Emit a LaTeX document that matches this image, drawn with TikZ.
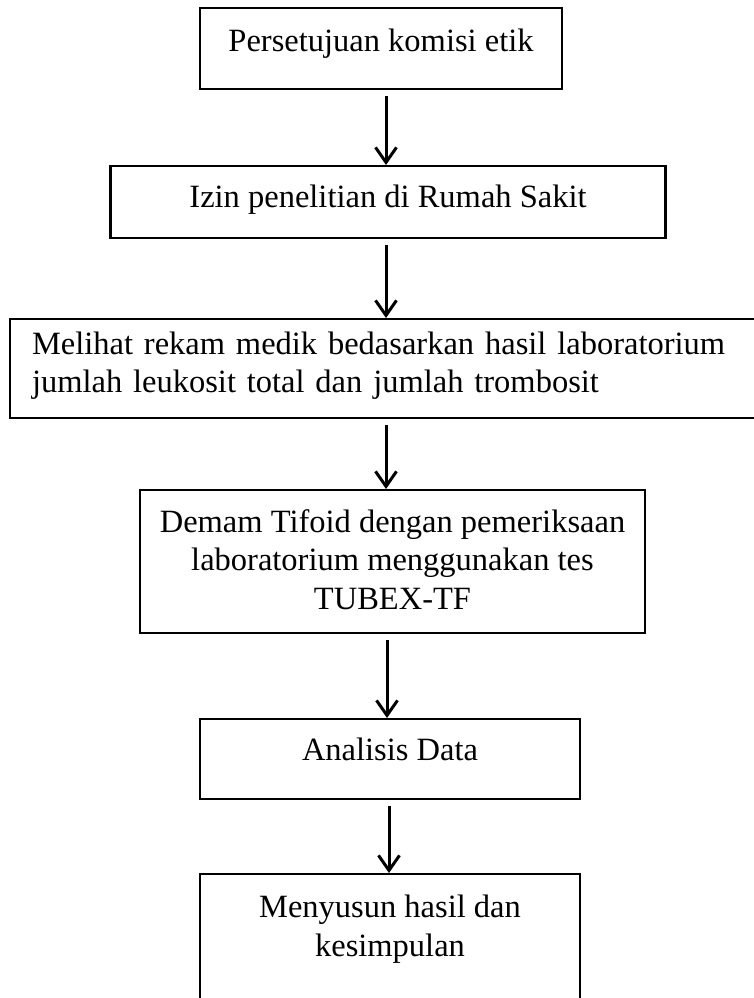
\documentclass[tikz,border=0pt]{standalone}
\usepackage{fontspec}
\setmainfont{Liberation Serif}
\usepackage{tikz}
\usetikzlibrary{arrows.meta}
\tikzset{
	flow node/.style={draw,line width=2.2pt,inner ysep=0pt,anchor=north,align=center,
		font=\fontsize{32.5}{38.5}\selectfont},
	flow line/.style={line width=3pt,shorten <=6pt}
}

\begin{document}
\begin{tikzpicture}[x=1pt,y=-1pt,>={Straight Barb[length=15pt,width=21pt]}]
	\useasboundingbox (0,0) rectangle (753,998);
	% boxes of the procedure
	\node [flow node,minimum width=362pt,text height=43pt,text depth=38pt] (1) at (381,7) {Persetujuan komisi etik};
	\node [flow node,minimum width=555pt,text height=41pt,text depth=31pt] (2) at (388,165) {Izin penelitian di Rumah Sakit};
	\node [flow node,text width=706pt,inner xsep=22pt,align=left,text height=35pt,text depth=64pt] (3) at (385,318)
		{Melihat rekam medik bedasarkan hasil laboratorium\\jumlah leukosit total dan jumlah trombosit};
	\node [flow node,minimum width=505pt,text height=119pt,text depth=24pt] (4) at (392.5,489)
		{Demam Tifoid dengan pemeriksaan\\laboratorium menggunakan tes\\TUBEX-TF};
	\node [flow node,minimum width=380pt,text height=41pt,text depth=39pt] (5) at (390,718) {Analisis Data};
	\node [flow node,minimum width=380pt,text height=82pt,text depth=55pt] (6) at (390,873)
		{Menyusun hasil dan\\kesimpulan};
	% arrows
	\coordinate (axis) at (386,0);
	\draw [->,flow line] (1.south -| axis) -- (2.north -| axis);
	\draw [->,flow line] (2.south -| axis) -- (3.north -| axis);
	\draw [->,flow line] (3.south -| axis) -- (4.north -| axis);
	\draw [->,flow line] ([xshift=1pt]4.south -| axis) -- ([xshift=1pt]5.north -| axis);
	\draw [->,flow line] ([xshift=3pt]5.south -| axis) -- ([xshift=3pt]6.north -| axis);
\end{tikzpicture}
\end{document}
